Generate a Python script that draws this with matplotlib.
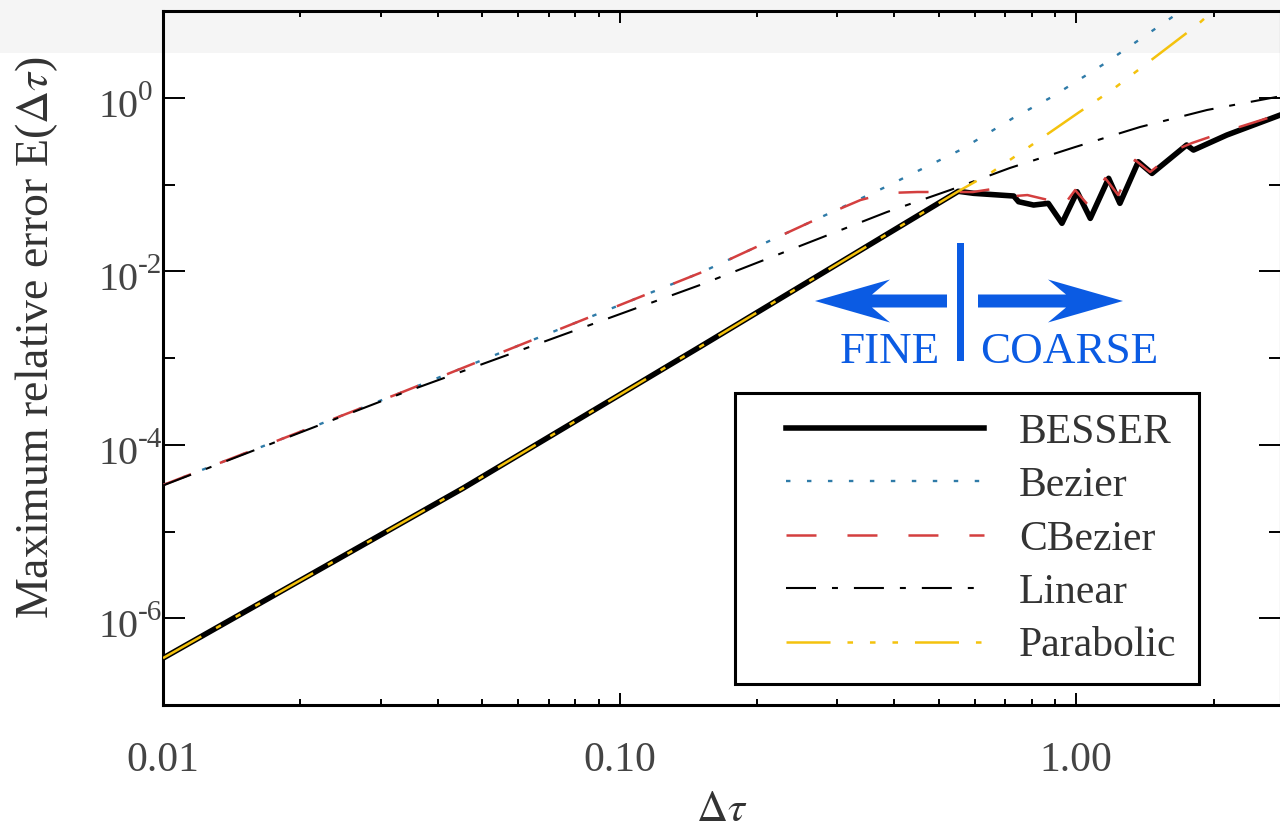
import matplotlib
matplotlib.use("Agg")
import matplotlib.pyplot as plt
from matplotlib import transforms
from matplotlib.patches import Rectangle, Polygon
from matplotlib.ticker import FixedLocator, NullFormatter, LogLocator

plt.rcParams['font.family'] = ['Liberation Serif', 'DejaVu Serif']
plt.rcParams['mathtext.fontset'] = 'stix'
plt.rcParams['lines.scale_dashes'] = False

# values (log-log)
besser_x = [0.01, 0.0454, 0.150, 0.552, 0.596, 0.730, 0.748, 0.807, 0.869, 0.931,
            1.005, 1.074, 1.178, 1.247, 1.368, 1.466, 1.746, 1.807, 2.138, 2.80]
besser_y = [3.47e-7, 3.16e-5, 1.35e-3, 0.084, 0.0796, 0.0741, 0.0637, 0.0583, 0.0610, 0.0359,
            0.0830, 0.0409, 0.1186, 0.0610, 0.184, 0.135, 0.287, 0.251, 0.374, 0.637]

bezier_x = [0.01, 0.0330, 0.150, 0.289, 0.382, 0.557, 0.728, 0.885, 1.159, 1.648, 1.82]
bezier_y = [3.44e-5, 3.95e-4, 9.6e-3, 0.0472, 0.094, 0.251, 0.588, 1.03, 2.53, 9.06, 13.8]

cbezier_x = [0.01, 0.0330, 0.150, 0.289, 0.337, 0.385, 0.449, 0.594, 0.699, 0.735, 0.782,
             0.869, 0.923, 0.995, 1.062, 1.158, 1.236, 1.346, 1.452, 1.690, 1.795, 2.173, 2.80]
cbezier_y = [3.44e-5, 3.95e-4, 9.6e-3, 0.0472, 0.0666, 0.0802, 0.0824, 0.0824, 0.094, 0.0741, 0.076,
             0.0666, 0.051, 0.0869, 0.0583, 0.119, 0.076, 0.193, 0.140, 0.265, 0.303, 0.428, 0.653]

linear_x = [0.01, 0.0330, 0.150, 0.385, 0.530, 0.716, 0.995, 1.380, 1.936, 2.754]
linear_y = [3.4e-5, 3.85e-4, 6.97e-3, 0.0484, 0.0869, 0.156, 0.272, 0.463, 0.728, 1.03]

parabolic_x = [0.01, 0.0454, 0.150, 0.552, 0.649, 0.782, 1.009, 1.199, 1.841, 2.12]
parabolic_y = [3.47e-7, 3.16e-5, 1.35e-3, 0.084, 0.136, 0.265, 0.671, 1.24, 6.95, 13.5]

x_ticks = [0.01, 0.1, 1.0]
x_ticklabels = ['0.01', '0.10', '1.00']
y_major = [1e-6, 1e-4, 1e-2, 1e0]
y_exponents = ['-6', '-4', '-2', '0']
y_minor = [1e-7, 1e-5, 1e-3, 1e-1, 1e1]

W, H = 1280, 832
BLUE = '#2f7ba8'
RED = '#d43f3f'
YELLOW = '#f4c20d'
ARROW = '#0b5be3'
TXT = '#444444'


def fx(px):
    return px / W


def fy(py):
    return 1 - py / H


fig = plt.figure(figsize=(12.8, 8.32), dpi=100)
fig.patch.set_facecolor('white')
# light grey band across the top
fig.add_artist(Rectangle((0, fy(53)), 1, 53 / H, transform=fig.transFigure,
                         facecolor='#f5f5f5', edgecolor='none', zorder=-5))

ax = fig.add_axes([fx(163), fy(705), fx(1281) - fx(163), fy(11.3) - fy(705)])
ax.set_facecolor('none')
ax.set_xscale('log')
ax.set_yscale('log')
ax.set_xlim(0.01, 2.81)
ax.set_ylim(1e-7, 1e1)

ax.plot(besser_x, besser_y, color='black', lw=4.0, solid_joinstyle='round', label='BESSER', zorder=3)
ax.plot(bezier_x, bezier_y, color=BLUE, lw=1.7, dashes=(3.2, 11.9), label='Bezier', zorder=4)
ax.plot(cbezier_x, cbezier_y, color=RED, lw=1.8, dashes=(21.6, 22.3), label='CBezier', zorder=4)
ax.plot(linear_x, linear_y, color='black', lw=1.5, dashes=(21.6, 11.5, 4.3, 11.5), label='Linear', zorder=4)
ax.plot(parabolic_x, parabolic_y, color=YELLOW, lw=1.8,
        dashes=(31.7, 12.2, 4.0, 12.2, 4.0, 12.2, 4.0, 12.2), label='Parabolic', zorder=5)

for s in ax.spines.values():
    s.set_linewidth(2.2)

ax.xaxis.set_major_locator(FixedLocator(x_ticks))
ax.xaxis.set_minor_locator(LogLocator(base=10, subs=range(2, 10)))
ax.xaxis.set_minor_formatter(NullFormatter())
ax.set_xticklabels(x_ticklabels)
ax.yaxis.set_major_locator(FixedLocator(y_major))
ax.yaxis.set_minor_locator(FixedLocator(y_minor))
ax.yaxis.set_minor_formatter(NullFormatter())

ax.tick_params(axis='both', which='both', direction='in', top=True, right=True, width=1.4)
ax.tick_params(axis='x', which='major', length=8.6, labelsize=30, labelcolor=TXT, pad=26)
ax.tick_params(axis='x', which='minor', length=4.3)
ax.tick_params(axis='y', which='major', length=15.8, labelleft=False)
ax.tick_params(axis='y', which='minor', length=8.6)

# y tick labels as 10 + raised exponent with a short hyphen
base = transforms.blended_transform_factory(fig.transFigure, ax.transData)
t_base = transforms.offset_copy(base, fig=fig, x=0, y=-19, units='dots')
t_exp = transforms.offset_copy(base, fig=fig, x=0, y=-2, units='dots')
for v, e in zip(y_major, y_exponents):
    ax.text(fx(98), v, '10', transform=t_base, ha='left', va='baseline',
            fontsize=29, color=TXT, clip_on=False)
    ax.text(fx(138), v, e, transform=t_exp, ha='left', va='baseline',
            fontsize=21, color=TXT, clip_on=False)

fig.text(fx(37), fy(338), r'Maximum relative error E($\Delta\tau$)', rotation=90,
         ha='center', va='center', fontsize=33, color='#333333')
fig.text(fx(722), fy(830), r'$\Delta\tau$', ha='center', va='bottom',
         fontsize=31, color='#333333')

# FINE / COARSE marker
def arrow_poly(tail, tip, cy):
    d = 1 if tip > tail else -1
    hl, hw, notch, sw = 75, 21.5, 18, 6.5
    pts = [(tip, cy), (tip - d * hl, cy - hw), (tip - d * (hl - notch), cy - sw),
           (tail, cy - sw), (tail, cy + sw), (tip - d * (hl - notch), cy + sw),
           (tip - d * hl, cy + hw)]
    return Polygon([(fx(x), fy(y)) for x, y in pts], closed=True,
                   transform=fig.transFigure, facecolor=ARROW, edgecolor='none', zorder=6)


fig.add_artist(arrow_poly(947, 815, 301))
fig.add_artist(arrow_poly(978, 1123, 301))
fig.add_artist(Rectangle((fx(956.5), fy(361)), 7 / W, 118 / H, transform=fig.transFigure,
                         facecolor=ARROW, edgecolor='none', zorder=6))
fig.text(fx(940), fy(363), 'FINE', ha='right', va='baseline', fontsize=32.5, color=ARROW)
fig.text(fx(980), fy(363), 'COARSE', ha='left', va='baseline', fontsize=32.5, color=ARROW)

# legend with a hand-placed frame
fig.add_artist(Rectangle((fx(735), fy(684)), 464 / W, 291 / H, transform=fig.transFigure,
                         facecolor='white', edgecolor='black', lw=2.2, zorder=6))
handles, labels = ax.get_legend_handles_labels()
leg = fig.legend(handles, labels, loc='upper left', bbox_to_anchor=(fx(786), fy(413)),
                 bbox_transform=fig.transFigure, frameon=False, borderpad=0, borderaxespad=0,
                 handlelength=4.76, handletextpad=0.83, labelspacing=0.36, fontsize=30,
                 labelcolor='#333333')
leg.set_zorder(7)

fig.savefig('out.png', dpi=100)
